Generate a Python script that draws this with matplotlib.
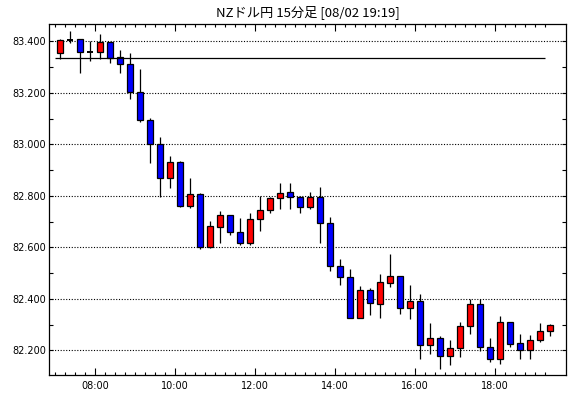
import matplotlib
matplotlib.use("Agg")
import matplotlib.pyplot as plt
from matplotlib.ticker import FixedLocator, NullFormatter

title = "NZドル円 15分足 [08/02 19:19]"
start_time = "07:00"   # first candle, 15-minute bars
opens = [83.353, 83.406, 83.408, 83.360, 83.357, 83.396, 83.338, 83.311, 83.204, 83.093,
         83.000, 82.870, 82.930, 82.761, 82.808, 82.601, 82.679, 82.726, 82.661, 82.617,
         82.710, 82.746, 82.792, 82.814, 82.797, 82.757, 82.795, 82.695, 82.529, 82.486,
         82.325, 82.434, 82.381, 82.463, 82.490, 82.363, 82.390, 82.222, 82.246, 82.177,
         82.208, 82.293, 82.378, 82.212, 82.165, 82.308, 82.227, 82.203, 82.239, 82.274]
highs = [83.410, 83.440, 83.408, 83.400, 83.428, 83.396, 83.366, 83.353, 83.292, 83.101,
         83.028, 82.954, 82.934, 82.869, 82.810, 82.701, 82.739, 82.726, 82.712, 82.735,
         82.800, 82.795, 82.848, 82.849, 82.800, 82.816, 82.835, 82.717, 82.554, 82.515,
         82.449, 82.441, 82.495, 82.574, 82.490, 82.453, 82.418, 82.306, 82.256, 82.240,
         82.310, 82.399, 82.399, 82.246, 82.335, 82.308, 82.263, 82.259, 82.306, 82.301]
lows = [83.333, 83.392, 83.278, 83.325, 83.330, 83.317, 83.278, 83.175, 83.088, 82.928,
        82.797, 82.831, 82.756, 82.754, 82.594, 82.599, 82.617, 82.648, 82.610, 82.610,
        82.663, 82.733, 82.750, 82.750, 82.733, 82.748, 82.617, 82.507, 82.453, 82.326,
        82.325, 82.337, 82.326, 82.445, 82.342, 82.321, 82.166, 82.187, 82.128, 82.143,
        82.175, 82.263, 82.199, 82.156, 82.148, 82.212, 82.168, 82.168, 82.231, 82.257]
closes = [83.404, 83.406, 83.360, 83.360, 83.396, 83.337, 83.311, 83.204, 83.093, 83.000,
          82.870, 82.930, 82.761, 82.808, 82.601, 82.681, 82.726, 82.659, 82.617, 82.711,
          82.746, 82.792, 82.812, 82.797, 82.757, 82.795, 82.694, 82.528, 82.485, 82.326,
          82.434, 82.385, 82.465, 82.490, 82.363, 82.390, 82.222, 82.246, 82.177, 82.208,
          82.293, 82.378, 82.212, 82.165, 82.308, 82.226, 82.203, 82.239, 82.274, 82.297]
ref_level = 83.334
y_ticks = [82.2, 82.4, 82.6, 82.8, 83.0, 83.2, 83.4]
y_tick_labels = ["82.200", "82.400", "82.600", "82.800", "83.000", "83.200", "83.400"]
x_tick_labels = ["08:00", "10:00", "12:00", "14:00", "16:00", "18:00"]
x_tick_candles = [3.5, 11.5, 19.5, 27.5, 35.5, 43.5]   # boundary before 08:00 candle etc.

W, H = 570, 398
fig = plt.figure(figsize=(W / 100, H / 100), dpi=100)
fig.patch.set_facecolor("white")
ax = fig.add_axes([49.3 / W, 1 - 375 / H, (565.7 - 49.3) / W, (375 - 24.3) / H])

n = len(opens)
body_w = 0.62
for i in range(n):
    o, h, l, c = opens[i], highs[i], lows[i], closes[i]
    ax.vlines(i, l, h, color="black", linewidth=0.9, zorder=3)
    if abs(c - o) < 1e-9:
        ax.hlines(o, i - body_w / 2, i + body_w / 2, color="black", linewidth=1.4, zorder=4)
    else:
        col = "#ff0000" if c > o else "#0000ff"
        ax.bar(i, abs(c - o), bottom=min(o, c), width=body_w, color=col,
               edgecolor="black", linewidth=0.9, zorder=4)

ax.hlines(ref_level, -0.5, n - 1.5, color="black", linewidth=0.9, zorder=5)

ax.set_xlim(-1.1, 50.54)
ax.set_ylim(82.104, 83.466)

for y in y_ticks:
    ax.axhline(y, color="black", linewidth=0.8, linestyle=(0, (1, 1.5)), zorder=1)

ax.set_yticks(y_ticks)
ax.set_yticklabels(y_tick_labels)
ax.yaxis.set_minor_locator(FixedLocator([82.3, 82.5, 82.7, 82.9, 83.1, 83.3]))
ax.set_xticks(x_tick_candles)
ax.set_xticklabels(x_tick_labels)
ax.xaxis.set_minor_locator(FixedLocator([k - 0.5 for k in range(n)]))
ax.xaxis.set_minor_formatter(NullFormatter())

ax.tick_params(axis="both", which="both", direction="in", top=True, right=True,
               labelsize=7, colors="black", width=0.8)
ax.tick_params(axis="x", which="major", length=5, pad=4)
ax.tick_params(axis="x", which="minor", length=2)
ax.tick_params(axis="y", which="major", length=3, pad=2.5)
ax.tick_params(axis="y", which="minor", length=3)
for s in ax.spines.values():
    s.set_linewidth(0.9)
    s.set_color("black")

fig.text((49.3 + 565.7) / 2 / W, 1 - 12.5 / H, title, ha="center", va="center",
         fontsize=9.5, family=["Noto Sans CJK JP", "DejaVu Sans"])

fig.savefig("out.png", dpi=100, facecolor="white")
